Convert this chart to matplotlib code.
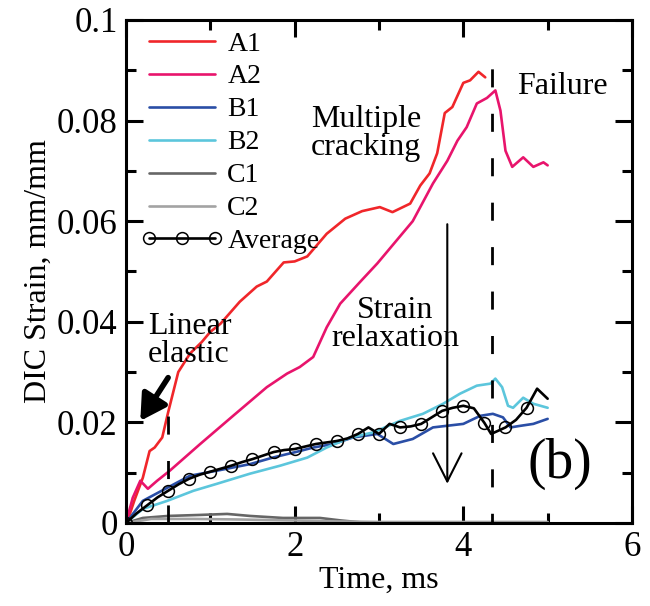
import matplotlib
matplotlib.use("Agg")
import matplotlib.pyplot as plt
from matplotlib.ticker import MultipleLocator, FixedLocator, FixedFormatter

# ---------------- data ----------------
a1_t = [0, 0.05, 0.1, 0.2, 0.28, 0.34, 0.43, 0.5, 0.62, 0.76, 0.9, 1.0, 1.12, 1.35, 1.55, 1.67,
        1.87, 2.0, 2.15, 2.38, 2.6, 2.8, 3.01, 3.16, 3.37, 3.49, 3.6, 3.69, 3.78, 3.87, 4.0,
        4.08, 4.18, 4.26]
a1_y = [0, 0.002, 0.0045, 0.009, 0.0143, 0.015, 0.017, 0.022, 0.030, 0.0337, 0.036, 0.038,
        0.0396, 0.044, 0.047, 0.048, 0.0518, 0.052, 0.053, 0.0575, 0.0605, 0.062, 0.0628,
        0.0618, 0.0635, 0.0671, 0.0695, 0.0735, 0.0815, 0.0827, 0.0875, 0.088, 0.0897, 0.0886]

a2_t = [0, 0.08, 0.17, 0.26, 0.37, 0.52, 0.88, 1.27, 1.67, 1.91, 2.06, 2.22, 2.38, 2.54, 2.78,
        2.98, 3.2, 3.4, 3.64, 3.81, 3.93, 4.04, 4.16, 4.28, 4.38, 4.44, 4.5, 4.58, 4.71, 4.83,
        4.95, 5.0]
a2_y = [0, 0.005, 0.0084, 0.0068, 0.0084, 0.0104, 0.0157, 0.0213, 0.027, 0.0297, 0.031, 0.033,
        0.0389, 0.0436, 0.048, 0.0516, 0.056, 0.060, 0.0675, 0.072, 0.076, 0.0787, 0.0834,
        0.0845, 0.086, 0.082, 0.074, 0.0708, 0.0727, 0.0708, 0.0717, 0.0711]

b1_t = [0, 0.2, 0.49, 0.76, 1.08, 1.47, 1.74, 2.06, 2.22, 2.46, 2.69, 2.98, 3.17, 3.4, 3.64,
        4.0, 4.2, 4.35, 4.47, 4.56, 4.67, 4.83, 5.0]
b1_y = [0, 0.0044, 0.007, 0.0094, 0.0104, 0.0117, 0.013, 0.0143, 0.015, 0.0157, 0.017, 0.0177,
        0.0157, 0.0167, 0.019, 0.0197, 0.0213, 0.0217, 0.021, 0.019, 0.0193, 0.0197, 0.0207]

b2_t = [0, 0.2, 0.49, 0.8, 1.08, 1.47, 1.83, 2.15, 2.38, 2.66, 2.93, 3.25, 3.52, 3.76, 3.96,
        4.16, 4.32, 4.38, 4.46, 4.53, 4.59, 4.71, 4.83, 5.0]
b2_y = [0, 0.0028, 0.0044, 0.0064, 0.0078, 0.0098, 0.0114, 0.013, 0.015, 0.017, 0.018, 0.0203,
        0.0217, 0.0237, 0.0257, 0.0273, 0.0277, 0.0287, 0.027, 0.0233, 0.0229, 0.0249, 0.0237,
        0.0229]

c1_t = [0, 0.2, 0.5, 0.88, 1.2, 1.47, 1.86, 2.0, 2.3, 2.55, 2.8, 3.5, 4.0, 4.5, 5.0]
c1_y = [0, 0.001, 0.0014, 0.0016, 0.0018, 0.0014, 0.001, 0.001, 0.001, 0.0005, 0.0001, 0.0001,
        0.0001, 0.0001, 0.0001]

c2_t = [0, 0.3, 0.8, 1.3, 2.0, 2.5, 3.0, 4.0, 5.0]
c2_y = [0, 0.0008, 0.0008, 0.0007, 0.0005, 0.0003, 0.0002, 0.0002, 0.0002]

avg_t = [0, 0.125, 0.25, 0.375, 0.5, 0.625, 0.75, 0.875, 1.0, 1.125, 1.25, 1.375, 1.5, 1.625,
         1.75, 1.875, 2.0, 2.125, 2.25, 2.375, 2.5, 2.625, 2.75, 2.875, 3.0, 3.125, 3.25,
         3.375, 3.5, 3.625, 3.75, 3.875, 4.0, 4.125, 4.25, 4.33, 4.5, 4.625, 4.75, 4.875, 5.0]
avg_y = [0, 0.0019, 0.0035, 0.0051, 0.0064, 0.0077, 0.0088, 0.0096, 0.0102, 0.0108, 0.0114,
         0.0121, 0.0127, 0.0134, 0.0141, 0.0145, 0.0147, 0.0152, 0.0157, 0.016, 0.0163, 0.0168,
         0.0177, 0.019, 0.0177, 0.0197, 0.019, 0.0192, 0.0197, 0.021, 0.0223, 0.0229, 0.0233,
         0.0228, 0.0199, 0.0177, 0.019, 0.0205, 0.0229, 0.0267, 0.0247]

series_labels = ["A1", "A2", "B1", "B2", "C1", "C2", "Average"]
x_ticks = [0, 2, 4, 6]
y_ticks = [0, 0.02, 0.04, 0.06, 0.08, 0.1]
y_tick_labels = ["0", "0.02", "0.04", "0.06", "0.08", "0.1"]

# ---------------- style ----------------
plt.rcParams["font.family"] = ["Liberation Serif", "DejaVu Serif"]
plt.rcParams["font.size"] = 23
plt.rcParams["lines.solid_joinstyle"] = "round"
plt.rcParams["lines.solid_capstyle"] = "round"

fig = plt.figure(figsize=(6.5, 6.06), dpi=100)
ax = fig.add_axes([0.1938, 0.137, 0.7785, 0.830])

lw = 1.9
ax.plot(a1_t, a1_y, color="#f0262a", lw=lw, label=series_labels[0])
ax.plot(a2_t, a2_y, color="#e8146c", lw=lw, label=series_labels[1])
ax.plot(b1_t, b1_y, color="#2a4ea6", lw=lw, label=series_labels[2])
ax.plot(b2_t, b2_y, color="#5cc6dc", lw=lw, label=series_labels[3])
ax.plot(c1_t, c1_y, color="#666666", lw=lw, label=series_labels[4])
ax.plot(c2_t, c2_y, color="#a3a3a3", lw=lw, label=series_labels[5])
mark_idx = [i for i, t in enumerate(avg_t) if abs(t / 0.25 - round(t / 0.25)) < 1e-9 and t < 4.9]
ax.plot(avg_t, avg_y, color="black", lw=1.9, marker="o", markersize=8.5, markerfacecolor="none",
        markeredgecolor="black", markeredgewidth=1.1, markevery=mark_idx, label=series_labels[6])

# dashed guide lines
ax.plot([0.5, 0.5], [0, 0.022], color="black", lw=2, ls=(0, (6.5, 9.5)))
ax.plot([4.34, 4.34], [0, 0.091], color="black", lw=2, ls=(3, (6.5, 9.5)))

# arrows
ax.annotate("", xy=(0.17, 0.0203), xytext=(0.5, 0.0289),
            arrowprops=dict(arrowstyle="-|>,head_length=0.7,head_width=0.4", lw=4,
                            color="black", mutation_scale=22, shrinkA=0, shrinkB=0))
ax.annotate("", xy=(3.81, 0.0078), xytext=(3.81, 0.0594),
            arrowprops=dict(arrowstyle="->,head_length=0.75,head_width=0.38", lw=1.5,
                            color="black", mutation_scale=27, shrinkA=0, shrinkB=0))

# annotations
ax.text(0.26, 0.0362, "Linear\nelastic", ha="left", va="center", linespacing=0.95)
ax.text(2.85, 0.0775, "Multiple\ncracking", ha="center", va="center", linespacing=0.95)
ax.text(3.19, 0.0394, "Strain\nrelaxation", ha="center", va="center", linespacing=0.95)
ax.text(5.18, 0.0867, "Failure", ha="center", va="center")
ax.text(5.15, 0.0118, "(b)", ha="center", va="center", fontsize=40)

# axes
ax.set_xlim(0, 6)
ax.set_ylim(0, 0.1)
ax.xaxis.set_major_locator(FixedLocator(x_ticks))
ax.xaxis.set_minor_locator(MultipleLocator(1))
ax.yaxis.set_major_locator(FixedLocator(y_ticks))
ax.yaxis.set_major_formatter(FixedFormatter(y_tick_labels))
ax.yaxis.set_minor_locator(MultipleLocator(0.01))
ax.tick_params(which="both", direction="in", top=True, right=True, width=2.2, labelsize=25)
ax.tick_params(which="major", length=12, pad=6)
ax.tick_params(which="minor", length=7)
for s in ax.spines.values():
    s.set_linewidth(2.2)

ax.set_xlabel("Time, ms", labelpad=1)
ax.set_ylabel("DIC Strain, mm/mm", labelpad=3)

leg = ax.legend(loc="upper left", bbox_to_anchor=(0.03, 0.978), frameon=False, fontsize=20,
                handlelength=2.95, handletextpad=0.15, labelspacing=0.27, borderpad=0,
                borderaxespad=0, numpoints=3)

fig.savefig("out.png", dpi=100)
